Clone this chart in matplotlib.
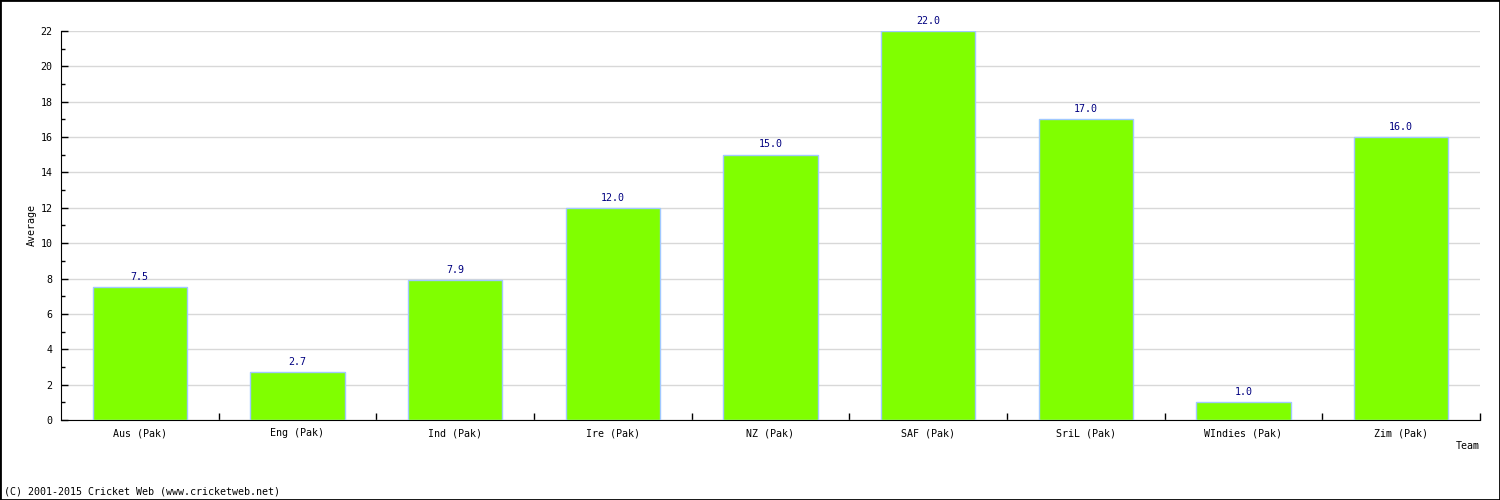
import matplotlib
matplotlib.use("Agg")
import matplotlib.pyplot as plt
import numpy as np

teams = ["Aus (Pak)", "Eng (Pak)", "Ind (Pak)", "Ire (Pak)", "NZ (Pak)",
         "SAF (Pak)", "SriL (Pak)", "WIndies (Pak)", "Zim (Pak)"]
averages = [7.5, 2.7, 7.9, 12.0, 15.0, 22.0, 17.0, 1.0, 16.0]
value_labels = ["7.5", "2.7", "7.9", "12.0", "15.0", "22.0", "17.0", "1.0", "16.0"]

plt.rcParams['font.family'] = ['DejaVu Sans Mono']
fs = 7.2
fig = plt.figure(figsize=(15, 5), dpi=100)
ax = fig.add_axes([61/1500, 80/500, (1480-61)/1500, (420-31)/500])

x = np.arange(len(teams))
ax.bar(x, averages, width=0.6, color='#80ff00', edgecolor='#a0c8ff', linewidth=1, zorder=3)
for xi, v, lab in zip(x, averages, value_labels):
    ax.text(xi, v + 0.3, lab, ha='center', va='bottom', fontsize=fs, color='#000080')

ax.set_xlim(-0.5, len(teams) - 0.5)
ax.set_ylim(0, 22)
ax.set_yticks(np.arange(0, 23, 2))
ax.set_yticks(np.arange(1, 22, 2), minor=True)
ax.set_xticks(x)
ax.set_xticklabels(teams, fontsize=fs)
ax.set_xticks(np.arange(0.5, len(teams) - 0.4, 1), minor=True)
ax.tick_params(axis='x', which='major', length=0, pad=6)
ax.tick_params(axis='x', which='minor', direction='in', length=5, width=1)
ax.tick_params(axis='y', which='major', direction='in', length=5, width=1, labelsize=fs, pad=6)
ax.tick_params(axis='y', which='minor', direction='in', length=3, width=1)
ax.grid(axis='y', which='major', color='#d8d8d8', linewidth=1, zorder=0)
for s in ['top', 'right']:
    ax.spines[s].set_visible(False)

ax.set_ylabel("Average", fontsize=fs, labelpad=3)
fig.text(1480/1500, 1 - 446/500, "Team", ha='right', va='center', fontsize=fs)
fig.text(4/1500, 1 - 492/500, "(C) 2001-2015 Cricket Web (www.cricketweb.net)", ha='left', va='center', fontsize=fs)

fig.patches.append(plt.Rectangle((0, 0), 1, 1, transform=fig.transFigure, fill=False,
                                 edgecolor='black', linewidth=2))
fig.savefig("out.png", dpi=100)
